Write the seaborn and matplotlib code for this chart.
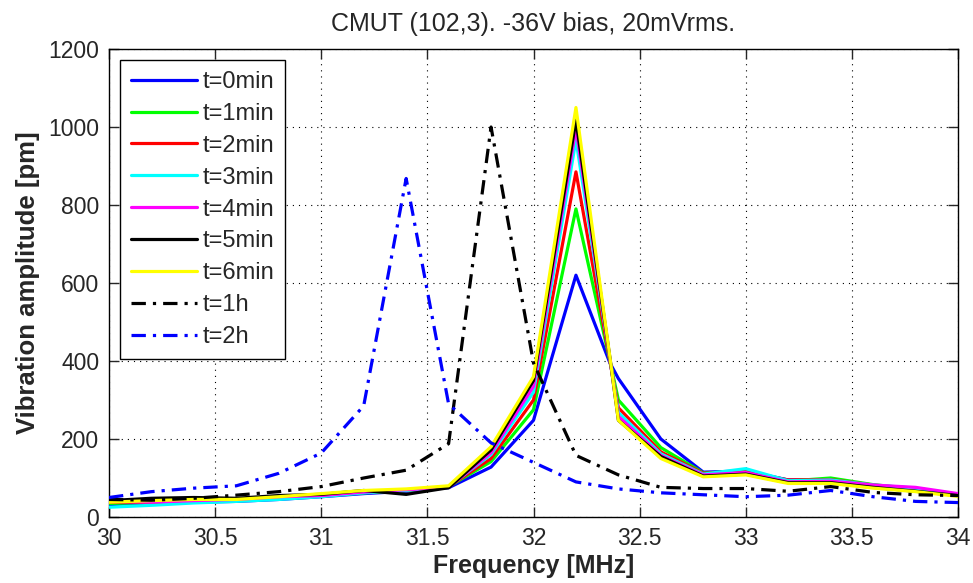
import numpy as np
import pandas as pd
import matplotlib
matplotlib.use("Agg")
import matplotlib.pyplot as plt
import seaborn as sns
from matplotlib.ticker import FixedLocator, FuncFormatter

# ---------------- data ----------------
freq_min = [30.0, 30.2, 30.4, 30.6, 30.8, 31.0, 31.2, 31.4, 31.6, 31.8, 32.0,
            32.2, 32.36, 32.4, 32.6, 32.8, 33.0, 33.2, 33.4, 33.6, 33.8, 34.0]
t0min = [32, 35, 38, 40, 45, 52, 60, 66, 75, 128, 248, 620, 395, 355, 200, 115, 118, 95, 95, 80, 70, 56]
t1min = [35, 37, 40, 42, 47, 54, 62, 68, 78, 142, 275, 790, 400, 300, 178, 113, 117, 92, 100, 83, 72, 58]
t2min = [38, 38, 40, 43, 47, 55, 63, 68, 78, 150, 300, 885, 400, 280, 167, 112, 116, 95, 96, 82, 72, 57]
t3min = [25, 30, 36, 40, 45, 52, 62, 68, 78, 160, 320, 967, 405, 268, 162, 110, 124, 93, 95, 82, 74, 58]
t4min = [40, 38, 42, 45, 52, 55, 64, 70, 76, 165, 335, 997, 405, 258, 158, 108, 114, 90, 92, 82, 76, 60]
t5min = [42, 48, 50, 48, 55, 58, 68, 58, 75, 172, 350, 1018, 408, 248, 155, 105, 110, 88, 88, 76, 66, 55]
t6min = [38, 42, 45, 45, 52, 60, 68, 72, 80, 180, 360, 1050, 410, 248, 150, 103, 108, 86, 86, 74, 65, 53]

freq_h = [30.0, 30.2, 30.4, 30.6, 30.8, 31.0, 31.2, 31.4, 31.6, 31.8, 32.0,
          32.2, 32.4, 32.6, 32.8, 33.0, 33.2, 33.4, 33.6, 33.8, 34.0]
t1h = [45, 43, 48, 56, 65, 78, 100, 120, 188, 1000, 395, 158, 108, 76, 73, 73, 66, 78, 63, 57, 55]
t2h = [50, 65, 74, 80, 112, 164, 285, 868, 290, 190, 140, 90, 72, 62, 57, 52, 56, 68, 52, 40, 37]

labels = ["t=0min", "t=1min", "t=2min", "t=3min", "t=4min", "t=5min", "t=6min", "t=1h", "t=2h"]
colors = ["#0000ff", "#00ff00", "#ff0000", "#00ffff", "#ff00ff", "#000000", "#ffff00", "#000000", "#0000ff"]

x_ticks = [30, 30.5, 31, 31.5, 32, 32.5, 33, 33.5, 34]
y_ticks = [0, 200, 400, 600, 800, 1000, 1200]

title = "CMUT (102,3). -36V bias, 20mVrms."
xlabel = "Frequency [MHz]"
ylabel = "Vibration amplitude [pm]"

# ---------------- style ----------------
sns.set_theme(style="ticks")
plt.rcParams["font.family"] = ["Liberation Sans", "DejaVu Sans"]

fig = plt.figure(figsize=(9.73, 5.83), dpi=100)
ax = fig.add_axes([109 / 973, 1 - 517 / 583, (958 - 109) / 973, (517 - 49) / 583])

series = [
    (freq_min, t0min), (freq_min, t1min), (freq_min, t2min), (freq_min, t3min),
    (freq_min, t4min), (freq_min, t5min), (freq_min, t6min),
    (freq_h, t1h), (freq_h, t2h),
]
dashdot = (0, (4.5, 2.2, 1.0, 2.2))
for i, ((fx, fy), lab, col) in enumerate(zip(series, labels, colors)):
    df = pd.DataFrame({"f": fx, "a": fy})
    ls = "-" if i < 7 else dashdot
    lw = 2.3
    sns.lineplot(data=df, x="f", y="a", ax=ax, color=col, label=lab,
                 estimator=None, sort=False, linewidth=lw, linestyle=ls, zorder=3 + i)

ax.set_xlim(30, 34)
ax.set_ylim(0, 1200)
ax.xaxis.set_major_locator(FixedLocator(x_ticks))
ax.yaxis.set_major_locator(FixedLocator(y_ticks))
ax.xaxis.set_major_formatter(FuncFormatter(lambda v, p: f"{v:g}"))
ax.yaxis.set_major_formatter(FuncFormatter(lambda v, p: f"{v:g}"))

ax.grid(True, color="black", linestyle=(0, (1, 4.5)), linewidth=0.8)
ax.set_axisbelow(True)
ax.tick_params(direction="in", top=True, right=True, length=7, width=1,
               labelsize=16.5, labelcolor="#262626", pad=7)
for s in ax.spines.values():
    s.set_visible(True)
    s.set_color("black")
    s.set_linewidth(1.0)

ax.set_title(title, fontsize=18, pad=13)
ax.set_xlabel(xlabel, fontsize=18, fontweight="bold", labelpad=3)
ax.set_ylabel(ylabel, fontsize=18.5, fontweight="bold", labelpad=6)

leg = ax.legend(loc="upper left", bbox_to_anchor=(0.013, 0.976), fontsize=17,
                frameon=True, fancybox=False, framealpha=1, edgecolor="black",
                handlelength=2.8, handletextpad=0.25, labelspacing=0.42,
                borderpad=0.45, borderaxespad=0)
leg.get_frame().set_linewidth(1.0)
leg.set_zorder(20)

fig.savefig("out.png", dpi=100)
